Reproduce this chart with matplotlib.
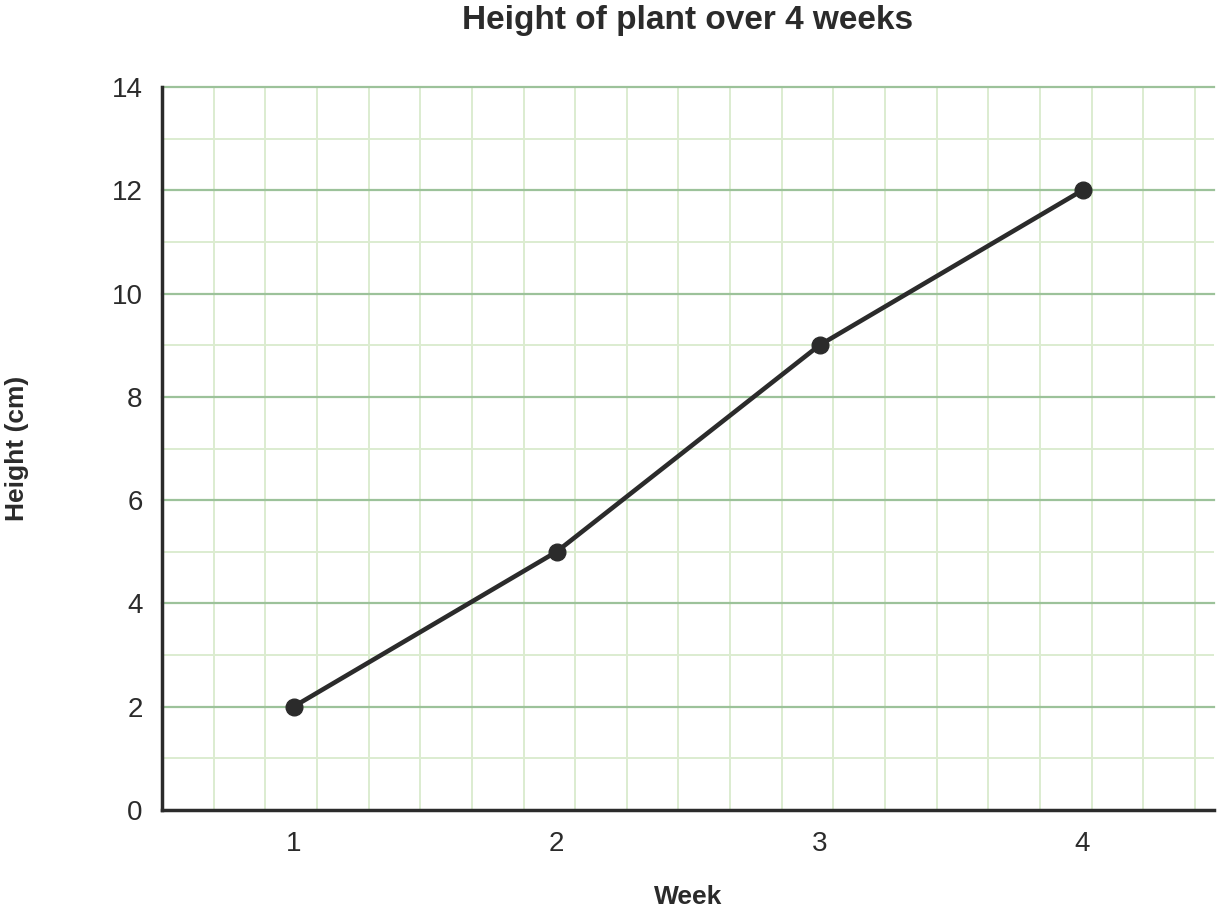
import matplotlib
matplotlib.use("Agg")
import matplotlib.pyplot as plt

weeks = [1, 2, 3, 4]
height_cm = [2, 5, 9, 12]
y_ticks = [0, 2, 4, 6, 8, 10, 12, 14]

plt.rcParams['font.family'] = ['Liberation Sans', 'DejaVu Sans']

dark = '#2b2b2b'
major_green = '#9cc29a'
minor_green = '#dcecd0'

fig = plt.figure(figsize=(12.2, 9.13), dpi=100)
# axes box in pixels: left 162, right 1214, top 87, bottom 810
left, right, top, bottom = 162, 1214, 87, 810
ax = fig.add_axes([left / 1220, 1 - bottom / 913,
                   (right - left) / 1220, (bottom - top) / 913])

ax.set_xlim(0.5, 4.5)
ax.set_ylim(0, 14)

# graph paper: square cells, one unit tall
cell_px = (bottom - top) / 14
cell_x = cell_px * 4 / (right - left)
k = 1
while 0.5 + k * cell_x < 4.5:
    ax.axvline(0.5 + k * cell_x, color=minor_green, lw=1.4, zorder=0)
    k += 1
for v in range(1, 14, 2):
    ax.axhline(v, color=minor_green, lw=1.4, zorder=0)
for v in range(2, 15, 2):
    ax.axhline(v, color=major_green, lw=1.6, zorder=1, clip_on=False)

ax.plot(weeks, height_cm, color=dark, lw=3.3, marker='o', markersize=12,
        zorder=3, clip_on=False)

for s in ['top', 'right']:
    ax.spines[s].set_visible(False)
for s in ['left', 'bottom']:
    ax.spines[s].set_color(dark)
    ax.spines[s].set_linewidth(2.5)
    ax.spines[s].set_zorder(4)

ax.set_xticks(weeks)
ax.set_yticks(y_ticks)
ax.tick_params(length=0, labelsize=20, labelcolor=dark)
ax.tick_params(axis='x', pad=15)
ax.tick_params(axis='y', pad=14)

ax.set_xlabel('Week', fontsize=19, fontweight='bold', color=dark)
ax.set_ylabel('Height (cm)', fontsize=19, fontweight='bold', color=dark)
ax.xaxis.set_label_coords(0.5, (bottom - 897) / (bottom - top))
ax.yaxis.set_label_coords((17 - left) / (right - left), 0.5)
ax.xaxis.label.set_va('center')
ax.yaxis.label.set_va('center')

fig.text((left + right) / 2 / 1220, 1 - 20 / 913, 'Height of plant over 4 weeks',
         ha='center', va='center', fontsize=24, fontweight='bold', color=dark)

fig.savefig('out.png', dpi=100)
